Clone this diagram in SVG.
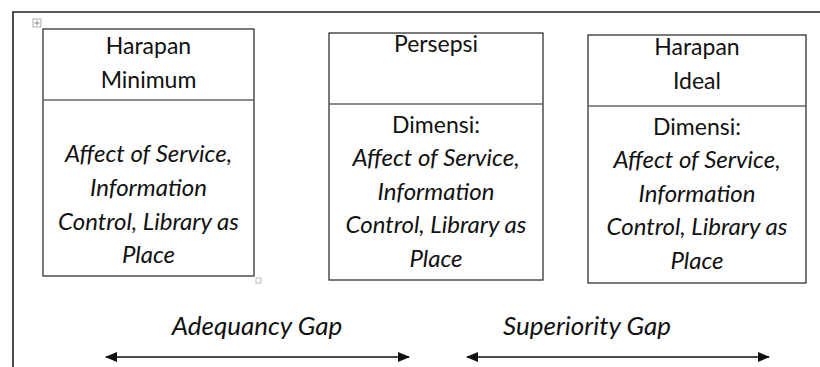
<svg xmlns="http://www.w3.org/2000/svg" width="820" height="367" viewBox="0 0 820 367">
  <style>
    .frame { stroke: #222; stroke-width: 1.6; fill: none; }
    .box { fill: #fff; stroke: #333; stroke-width: 1.3; }
    .divider { stroke: #666; stroke-width: 1.4; }
    .t { font-family: Lato, "Liberation Sans", sans-serif; font-size: 23px; fill: #111; text-anchor: middle; }
    .i { font-style: italic; font-size: 24px; }
    .lbl { font-size: 26px; }
    .gap { stroke: #111; stroke-width: 1.6; fill: none; }
  </style>
  <defs>
    <marker id="head" viewBox="0 0 12 10" refX="11" refY="5" markerWidth="12" markerHeight="10" markerUnits="userSpaceOnUse" orient="auto-start-reverse">
      <path d="M0,0 L12,5 L0,10 Z" fill="#111"/>
    </marker>
  </defs>
  <rect width="820" height="367" fill="#fff"/>

  <!-- page frame -->
  <path class="frame" d="M13,367 V12 H820"/>

  <!-- table move handle -->
  <g id="move-handle" stroke="#999" stroke-width="0.8" fill="#fff">
    <rect x="33" y="19" width="8" height="8"/>
    <path d="M37,20.5 V25.5 M34.5,23 H39.5" stroke="#777"/>
  </g>

  <g id="harapan-minimum">
    <rect class="box" x="43" y="29" width="211" height="247"/>
    <line class="divider" x1="43" y1="100" x2="254" y2="100"/>
    <text class="t" x="148.5" y="54">Harapan</text>
    <text class="t" x="148.5" y="88">Minimum</text>
    <text class="t i" x="148.5" y="162">Affect of Service,</text>
    <text class="t i" x="148.5" y="196">Information</text>
    <text class="t i" x="148.5" y="230">Control, Library as</text>
    <text class="t i" x="148.5" y="263">Place</text>
    <rect x="256" y="278" width="5" height="5" fill="#fff" stroke="#aaa" stroke-width="0.8"/>
  </g>

  <g id="persepsi">
    <rect class="box" x="329" y="33" width="214" height="247"/>
    <line class="divider" x1="329" y1="104" x2="543" y2="104"/>
    <text class="t" x="436" y="52">Persepsi</text>
    <text class="t" x="436" y="133">Dimensi:</text>
    <text class="t i" x="436" y="166">Affect of Service,</text>
    <text class="t i" x="436" y="200">Information</text>
    <text class="t i" x="436" y="233">Control, Library as</text>
    <text class="t i" x="436" y="267">Place</text>
  </g>

  <g id="harapan-ideal">
    <rect class="box" x="588" y="35" width="218" height="248" stroke="#555"/>
    <line class="divider" x1="588" y1="106" x2="806" y2="106"/>
    <text class="t" x="697" y="55">Harapan</text>
    <text class="t" x="697" y="89">Ideal</text>
    <text class="t" x="697" y="135">Dimensi:</text>
    <text class="t i" x="697" y="168">Affect of Service,</text>
    <text class="t i" x="697" y="202">Information</text>
    <text class="t i" x="697" y="235">Control, Library as</text>
    <text class="t i" x="697" y="269">Place</text>
  </g>

  <g id="connectors">
    <line class="gap" x1="106" y1="357" x2="409" y2="357" marker-start="url(#head)" marker-end="url(#head)"/>
    <line class="gap" x1="467" y1="357" x2="769" y2="357" marker-start="url(#head)" marker-end="url(#head)"/>
  </g>

  <g id="gap-labels">
    <text class="t i lbl" x="257" y="335">Adequancy Gap</text>
    <text class="t i lbl" x="587" y="335">Superiority Gap</text>
  </g>
</svg>
